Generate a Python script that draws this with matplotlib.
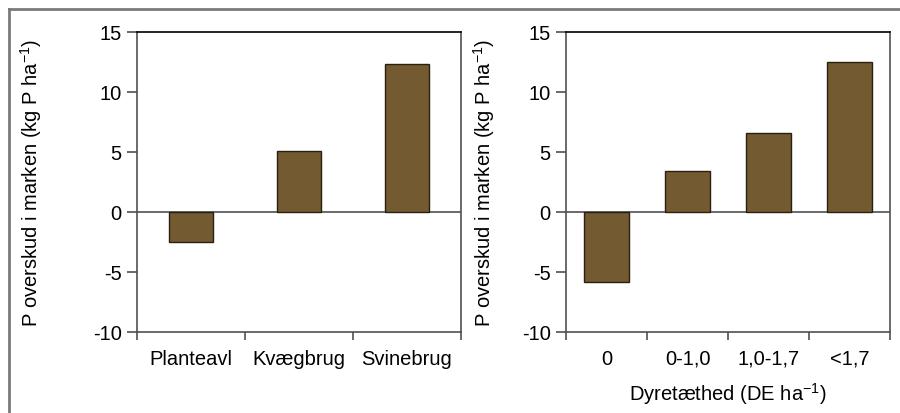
import matplotlib
matplotlib.use("Agg")
import matplotlib.pyplot as plt
from matplotlib.lines import Line2D
import numpy as np

plt.rcParams['font.family'] = ['Liberation Sans', 'DejaVu Sans']
plt.rcParams['mathtext.default'] = 'regular'
plt.rcParams['axes.unicode_minus'] = False

# data
farm_types = ['Planteavl', 'Kvægbrug', 'Svinebrug']
farm_values = [-2.5, 5.1, 12.3]

density_classes = ['0', '0-1,0', '1,0-1,7', '<1,7']
density_values = [-5.8, 3.4, 6.6, 12.5]

ylabel = 'P overskud i marken (kg P ha$^{-1}$)'
xlabel_right = 'Dyretæthed (DE ha$^{-1}$)'

bar_color = '#735a30'
spine_color = '#505050'
fs = 14.5

fig = plt.figure(figsize=(9, 4.14), dpi=100)

# outer frame (only top and left visible)
fx = 8.5 / 900
fy = 1 - 10 / 414
fig.add_artist(Line2D([fx, fx], [0, fy], transform=fig.transFigure,
                      color='#7a7a7a', lw=2, zorder=10))
fig.add_artist(Line2D([fx, 1], [fy, fy], transform=fig.transFigure,
                      color='#7a7a7a', lw=2, zorder=10))


def panel(rect, cats, vals, width, ylab_x):
    ax = fig.add_axes(rect)
    x = np.arange(len(cats))
    ax.bar(x, vals, width=width, color=bar_color, edgecolor='#2a2010', linewidth=1.0, zorder=3)
    ax.axhline(0, color=spine_color, lw=1.2, zorder=2)
    ax.set_xlim(-0.5, len(cats) - 0.5)
    ax.set_ylim(-10, 15)
    ax.set_yticks([-10, -5, 0, 5, 10, 15])
    ax.set_xticks(x)
    ax.set_xticklabels(cats)
    ax.set_xticks(np.arange(len(cats) + 1) - 0.5, minor=True)
    ax.tick_params(axis='x', which='major', length=0, pad=12, labelsize=fs)
    ax.tick_params(axis='x', which='minor', length=6, width=1.2, color=spine_color, direction='out')
    ax.tick_params(axis='y', length=7, width=1.2, color=spine_color, pad=4, labelsize=fs)
    for s in ['left', 'right', 'bottom']:
        ax.spines[s].set_color(spine_color)
        ax.spines[s].set_linewidth(1.2)
    ax.spines['top'].set_color('black')
    ax.spines['top'].set_linewidth(1.2)
    ax.set_ylabel(ylabel, fontsize=fs)
    ax.yaxis.set_label_coords(ylab_x, 0.5)
    return ax


ax1 = panel([137/900, 81/414, 324/900, 300/414], farm_types, farm_values, 0.4, -0.287)
ax2 = panel([566/900, 81/414, 324/900, 300/414], density_classes, density_values, 0.55, -0.213)
ax2.set_xlabel(xlabel_right, fontsize=fs)
ax2.xaxis.set_label_coords(0.5, -0.16)

fig.savefig('out.png', dpi=100)
